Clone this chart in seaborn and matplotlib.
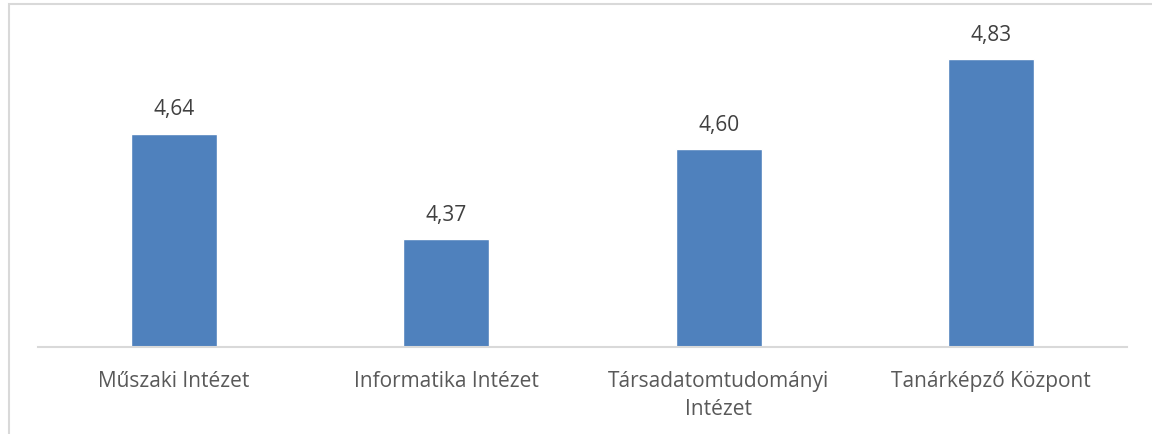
import matplotlib
matplotlib.use("Agg")
import matplotlib.pyplot as plt
import seaborn as sns
import pandas as pd
from matplotlib.patches import Rectangle

categories = ["Műszaki Intézet", "Informatika Intézet", "Társadatomtudományi\nIntézet", "Tanárképző Központ"]
values = [4.64, 4.37, 4.60, 4.83]
value_labels = ["4,64", "4,37", "4,60", "4,83"]

sns.set_theme(style="white")
plt.rcParams['font.family'] = ['Open Sans', 'DejaVu Sans']

W, H = 1152, 434
fig = plt.figure(figsize=(W/100, H/100), dpi=100)
ax = fig.add_axes([38/W, 1-347/H, (1127-38)/W, (347-34)/H])

df = pd.DataFrame({"cat": categories, "val": values})
sns.barplot(data=df, x="cat", y="val", color="#4F81BD", saturation=1, width=0.316, ax=ax)
ax.set_ylim(4.095, 4.895)
ax.set_xlim(-0.5, 3.5)

for i, (v, lab) in enumerate(zip(values, value_labels)):
    ax.annotate(lab, (i, v), xytext=(0, 10), textcoords="offset points",
                ha="center", va="bottom", fontsize=15, color="#404040")

ax.set_xlabel("")
ax.set_ylabel("")
ax.set_yticks([])
ax.tick_params(axis="x", length=0, pad=17, labelsize=15, labelcolor="#595959")
for t in ax.get_xticklabels():
    t.set_linespacing(1.45)
for s in ["top", "right", "left"]:
    ax.spines[s].set_visible(False)
ax.spines["bottom"].set_color("#D9D9D9")
ax.spines["bottom"].set_linewidth(1.5)

fig.patches.append(Rectangle((9/W, -0.1), 1.2, 1 - 4/H + 0.1, transform=fig.transFigure,
                             fill=False, edgecolor="#D9D9D9", linewidth=1.5, zorder=0))

fig.savefig("out.png", dpi=100, facecolor="white")
